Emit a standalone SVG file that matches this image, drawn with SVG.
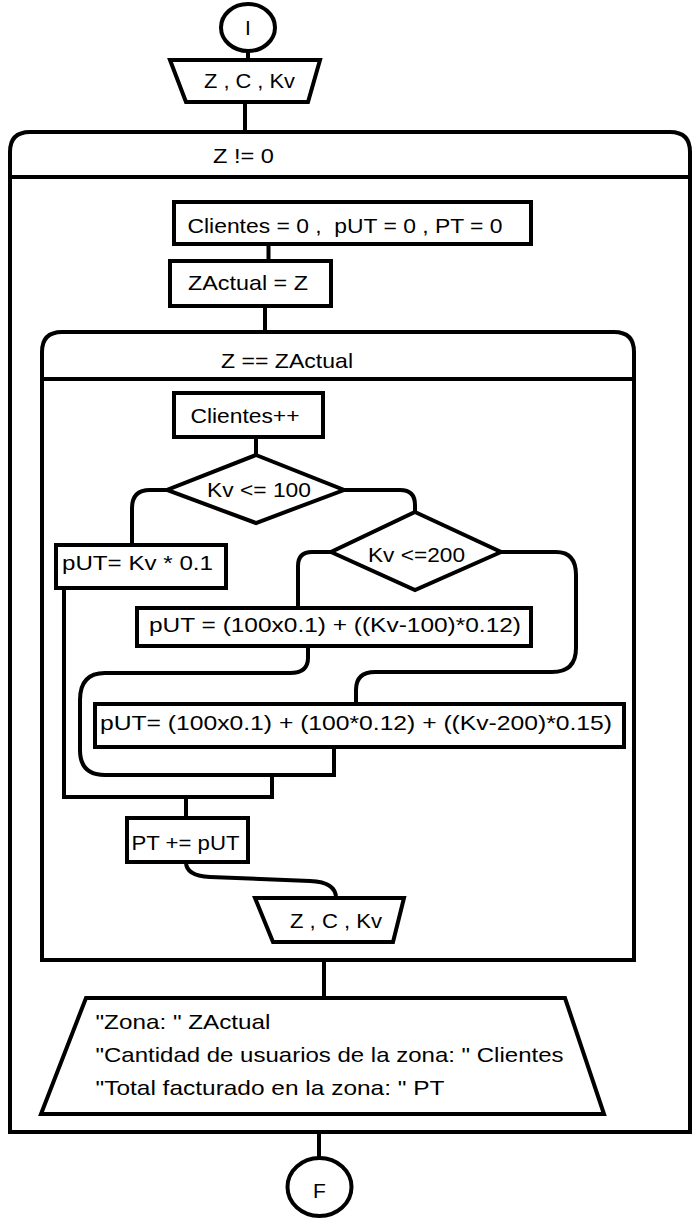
<svg xmlns="http://www.w3.org/2000/svg" width="700" height="1225" viewBox="0 0 700 1225">
<style>
.s{fill:#fff;stroke:#000;stroke-width:4}
.f{fill:none;stroke:#000;stroke-width:4}
.c{fill:none;stroke:#000;stroke-width:4}
text{font-family:"Liberation Sans",Arial,sans-serif;font-size:21px;fill:#000}
</style>
<rect width="700" height="1225" fill="#fff"/>
<g id="start">
<ellipse class="s" cx="248" cy="27.5" rx="27" ry="23.5"/>
<text x="248" y="35" text-anchor="middle">I</text>
</g>
<g id="input1">
<polygon class="s" points="170,60 320,60 308,102 186,102"/>
<text x="204" y="88" textLength="91" lengthAdjust="spacingAndGlyphs">Z , C , Kv</text>
</g>
<g id="outerLoop">
<path class="f" d="M10,1132 V152 Q10,132 30,132 H670 Q690,132 690,152 V1132 Z"/>
<path class="c" d="M10,177 H690"/>
<text x="213" y="163" textLength="61" lengthAdjust="spacingAndGlyphs">Z != 0</text>
</g>
<g id="init">
<rect class="s" x="174" y="202" width="357" height="42"/>
<text x="187.5" y="233" textLength="315" lengthAdjust="spacingAndGlyphs" xml:space="preserve">Clientes = 0 ,  pUT = 0 , PT = 0</text>
</g>
<g id="zactual">
<rect class="s" x="170" y="261" width="161" height="45"/>
<text x="188" y="290" textLength="120" lengthAdjust="spacingAndGlyphs">ZActual = Z</text>
</g>
<g id="innerLoop">
<path class="f" d="M42,960 V352 Q42,332 62,332 H614 Q634,332 634,352 V960 Z"/>
<path class="c" d="M42,379 H634"/>
<text x="221" y="368" textLength="132" lengthAdjust="spacingAndGlyphs">Z == ZActual</text>
</g>
<g id="clientesInc">
<rect class="s" x="174" y="393" width="149" height="44"/>
<text x="190.5" y="423" textLength="109" lengthAdjust="spacingAndGlyphs">Clientes++</text>
</g>
<g id="dec1">
<polygon class="s" points="256,455 344,490 256,523 167,490"/>
<text x="207" y="497" textLength="104" lengthAdjust="spacingAndGlyphs">Kv &lt;= 100</text>
</g>
<g id="put1">
<rect class="s" x="56" y="545" width="170" height="43"/>
<text x="62" y="570" textLength="151" lengthAdjust="spacingAndGlyphs">pUT= Kv * 0.1</text>
</g>
<g id="dec2">
<polygon class="s" points="415,512 501,552 415,590 331,552"/>
<text x="368" y="562" textLength="97" lengthAdjust="spacingAndGlyphs">Kv &lt;=200</text>
</g>
<g id="put2">
<rect class="s" x="137" y="608" width="394" height="38"/>
<text x="149" y="632" textLength="372" lengthAdjust="spacingAndGlyphs">pUT = (100x0.1) + ((Kv-100)*0.12)</text>
</g>
<g id="put3">
<rect class="s" x="95" y="704" width="529" height="43"/>
<text x="100" y="730" textLength="512" lengthAdjust="spacingAndGlyphs">pUT= (100x0.1) + (100*0.12) + ((Kv-200)*0.15)</text>
</g>
<g id="ptAdd">
<rect class="s" x="127" y="818" width="121" height="44"/>
<text x="131.5" y="850" textLength="108" lengthAdjust="spacingAndGlyphs">PT += pUT</text>
</g>
<g id="input2">
<polygon class="s" points="255,898 404,898 393,942 273,942"/>
<text x="290" y="928" textLength="92" lengthAdjust="spacingAndGlyphs">Z , C , Kv</text>
</g>
<g id="output">
<polygon class="s" points="86,998 565,998 604,1114 41,1114"/>
<text x="95.5" y="1029" textLength="175" lengthAdjust="spacingAndGlyphs">"Zona: " ZActual</text>
<text x="95.5" y="1062" textLength="468" lengthAdjust="spacingAndGlyphs">"Cantidad de usuarios de la zona: " Clientes</text>
<text x="95.5" y="1095" textLength="349" lengthAdjust="spacingAndGlyphs">"Total facturado en la zona: " PT</text>
</g>
<g id="end">
<ellipse class="s" cx="319.5" cy="1187" rx="32" ry="29"/>
<text x="319.5" y="1198" text-anchor="middle">F</text>
</g>
<g id="connectors">
<path class="c" d="M248,51 V60"/>
<path class="c" d="M245,102 V132"/>
<path class="c" d="M268.5,244 V261"/>
<path class="c" d="M265,306 V332"/>
<path class="c" d="M256,437 V455"/>
<path class="c" d="M167,490 H150 Q132,490 132,508 V545"/>
<path class="c" d="M344,490 H400 Q415,490 415,505 V512"/>
<path class="c" d="M331,552 H312 Q298,552 298,566 V608"/>
<path class="c" d="M501,552 H556 Q576,552 576,575 V648 Q576,672 552,672 H375 Q356,672 356,690 V704"/>
<path class="c" d="M308,646 V658 Q308,673 290,673 H105 Q80,673 80,700 V750 Q80,775 105,775 H334 V747"/>
<path class="c" d="M272,775 V797"/>
<path class="c" d="M64,588 V797 H274"/>
<path class="c" d="M186,797 V818"/>
<path class="c" d="M186,862 Q186,876 210,877 L310,881 Q336,882 336,898"/>
<path class="c" d="M324,960 V998"/>
<path class="c" d="M319,1132 V1158"/>
</g>
</svg>
